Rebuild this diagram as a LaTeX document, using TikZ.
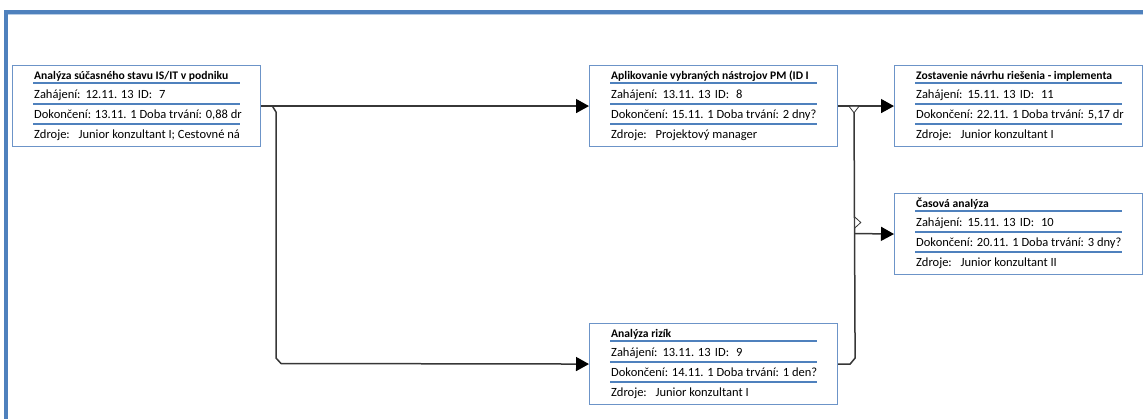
\documentclass[tikz,border=0pt]{standalone}
\usepackage{fontspec}
\setmainfont{Carlito}
\usetikzlibrary{positioning, arrows.meta}
\definecolor{ramcek}{RGB}{79,129,189}
\definecolor{okraj}{RGB}{108,148,200}
\definecolor{svetla}{RGB}{184,204,228}
\definecolor{ciara}{RGB}{55,55,55}
\tikzset{
x=1pt, y=-1pt, % one unit is one pixel of the screenshot, y grows downwards
uloha/.style={draw=okraj, line width=1.1pt, fill=white, minimum width=248pt, minimum height=81pt, inner sep=0pt}, % the box of one task
riadok/.style={anchor=base west, inner sep=0pt, font=\fontsize{12.5}{14}\selectfont}, % one line of text in a task
nazov/.style={riadok, font=\fontsize{11.6}{14}\selectfont\bfseries}, % the title line
oddel/.style={draw=ramcek, line width=1.2pt}, % blue rule under each line
spoj/.style={draw=ciara, line width=1.5pt}, % a connector
sipka/.style={spoj, -{Triangle[length=13pt, width=14pt, color=black]}}, % a connector that ends in an arrow
znacka/.style={draw=ciara, line width=0.8pt, fill=white}, % small open triangle at a junction
okno/.style={draw=ramcek, line width=3.5pt}, % the window frame
}
% #1 name, #2 #3 top left corner, #4 title, #5 start, #6 ID, #7 end, #8 duration, #9 resources
\newcommand{\uloha}[9]{%
\node[uloha, anchor=north west] (#1) at (#2,#3) {};
\node[nazov] (#1-n) at ([xshift=22pt,yshift=-15pt]#1.north west) {#4};
\node[riadok] (#1-z) at ([xshift=22pt,yshift=-33.3pt]#1.north west) {Zahájení:\hspace{0.4em}#5\hspace{0.35em}ID:\hspace{0.55em}#6};
\node[riadok] (#1-k) at ([xshift=22pt,yshift=-53.3pt]#1.north west) {Dokončení: #7 Doba trvání: #8};
\node[riadok] (#1-r) at ([xshift=22pt,yshift=-73.5pt]#1.north west) {Zdroje:\hspace{0.7em}#9};
\draw[oddel] ([xshift=21pt,yshift=-18pt]#1.north west) -- ++(207,0);
\draw[oddel] ([xshift=21pt,yshift=-39pt]#1.north west) -- ++(207,0);
\draw[oddel] ([xshift=21pt,yshift=-59pt]#1.north west) -- ++(207,0);
}
\begin{document}
\begin{tikzpicture}
\useasboundingbox (0,0) rectangle (1143,419);
% window frame
\draw[okno] (6,419) -- (6,12) -- (1143,12);
\draw[draw=svetla, line width=1pt] (8,14.5) -- (1143,14.5);

\uloha{u7}{12}{65}{Analýza súčasného stavu IS/IT v podniku}{12.11. 13}{7}{13.11. 1}{0,88 dr}{Junior konzultant I; Cestovné ná}
\uloha{u8}{589}{65}{Aplikovanie vybraných nástrojov PM (ID I}{13.11. 13}{8}{15.11. 1}{2 dny?}{Projektový manager}
\uloha{u11}{894}{65}{Zostavenie návrhu riešenia - implementa}{15.11. 13}{11}{22.11. 1}{5,17 dr}{Junior konzultant I}
\uloha{u10}{894}{193}{Časová analýza}{15.11. 13}{10}{20.11. 1}{3 dny?}{Junior konzultant II}
\uloha{u9}{589}{323}{Analýza rizík}{13.11. 13}{9}{14.11. 1}{1 den?}{Junior konzultant I}

\coordinate (rozdel) at (272,105.5);
\coordinate (zluc) at (854,105.5);
\coordinate (vetva) at (854,233.5);

\draw[sipka] (u7.east) -- (u8.west);
\draw[sipka] (rozdel) -- ++(4,6.5) -- ++(0,246) -- ++(5,5.5) -- (u9.west);
\draw[sipka] (u8.east) -- (u11.west);
\draw[spoj] (u9.east) -- ++(12,0) -- ++(5,-6) -- (zluc);
\draw[sipka] (vetva) -- (u10.west);

% junction marks
\draw[znacka] ([xshift=-5pt,yshift=-0.8pt]zluc) -- ++(10,0) -- ++(-5,6.5) -- cycle;
\draw[znacka] ([xshift=0.8pt,yshift=5.5pt]vetva) -- ++(6,-5.5) -- ++(-6,-5.5) -- cycle;
\end{tikzpicture}
\end{document}
